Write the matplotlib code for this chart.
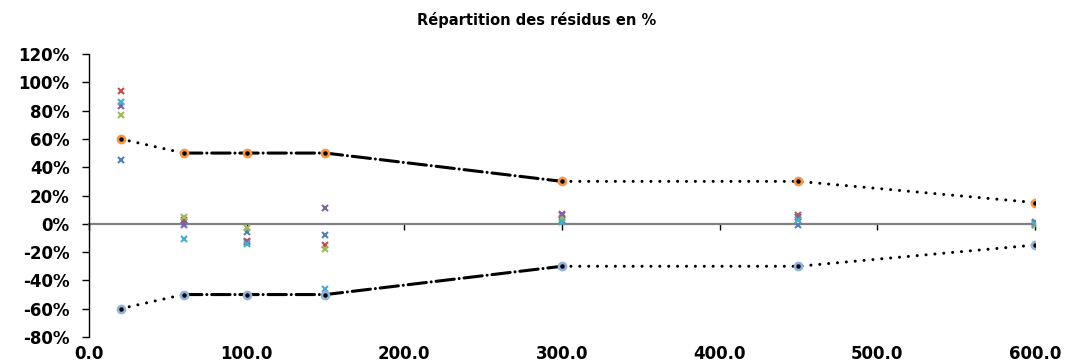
import matplotlib.pyplot as plt
import matplotlib.ticker as mticker
import numpy as np

plt.rcParams['font.family'] = ['DejaVu Sans']

# envelope (tolerance limits), in %
env_x = [20, 60, 100, 150, 300, 450, 600]
env_upper = [60, 50, 50, 50, 30, 30, 15]
env_lower = [-60, -50, -50, -50, -30, -30, -15]

# residuals per series, in %
res_x = [20, 60, 100, 150, 300, 450, 600]
res_blue = [45, 1, -6, -8, 2.5, -1, 1]
res_red = [94, 2.5, -12, -15, 6, 6.5, -1]
res_green = [77, 4.5, -3, -17.5, 4, 4.5, -0.5]
res_purple = [83, -1, -13, 11, 7, 5, 0.5]
res_cyan = [86, -11, -14.5, -46, 1, 3, 0]

fig = plt.figure(figsize=(10.67, 3.63), dpi=100)
ax = fig.add_axes([0.0834, 0.0716, 0.8866, 0.7796])

series = [
    (res_blue, '#4F81BD'),
    (res_red, '#C0504D'),
    (res_green, '#9BBB59'),
    (res_purple, '#8064A2'),
    (res_cyan, '#4BACC6'),
]
for vals, col in series:
    ax.plot(res_x, np.array(vals) / 100, linestyle='none', marker='x',
            color=col, ms=4.5, mew=1.5, zorder=3)

dotted = (0, (0.01, 2.9))
dashdot = (0, (6, 1.6, 0.01, 1.6))
ex = np.array(env_x)
for env in (env_upper, env_lower):
    ev = np.array(env) / 100
    ax.plot(ex[:2], ev[:2], color='black', lw=2.2, linestyle=dotted,
            dash_capstyle='round', zorder=4)
    ax.plot(ex[1:5], ev[1:5], color='black', lw=2.2, linestyle=dashdot,
            dash_capstyle='round', zorder=4)
    ax.plot(ex[4:], ev[4:], color='black', lw=2.2, linestyle=dotted,
            dash_capstyle='round', zorder=4)

ax.plot(ex, np.array(env_upper) / 100, linestyle='none', marker='o',
        ms=6, color='#F79646', zorder=5)
ax.plot(ex, np.array(env_lower) / 100, linestyle='none', marker='o',
        ms=6, color='#95B3D7', zorder=5)
ax.plot(ex, np.array(env_upper) / 100, linestyle='none', marker='o',
        ms=2.2, color='black', zorder=6)
ax.plot(ex, np.array(env_lower) / 100, linestyle='none', marker='o',
        ms=2.2, color='black', zorder=6)

ax.set_xlim(0, 600)
ax.set_ylim(-0.8, 1.2)
ax.set_yticks(np.arange(-0.8, 1.21, 0.2))
ax.yaxis.set_major_formatter(
    mticker.FuncFormatter(lambda v, p: '%d%%' % int(round(v * 100)) if round(v * 100) != 0 else '0%'))

for s in ('top', 'right'):
    ax.spines[s].set_visible(False)
ax.spines['left'].set_color('black')
ax.spines['left'].set_linewidth(1.0)
ax.spines['bottom'].set_position(('data', 0))
ax.spines['bottom'].set_color('#808080')
ax.spines['bottom'].set_linewidth(1.6)
ax.spines['bottom'].set_zorder(2)

ax.set_xticks(np.arange(0, 601, 100))
ax.tick_params(axis='x', direction='out', length=4, width=1, color='black',
               labelbottom=False)
ax.tick_params(axis='y', direction='out', length=5, width=1, pad=9,
               labelsize=12)
for lab in ax.get_yticklabels():
    lab.set_fontweight('bold')

sec = ax.secondary_xaxis('bottom')
sec.set_xticks(np.arange(0, 601, 100))
sec.xaxis.set_major_formatter(mticker.FormatStrFormatter('%.1f'))
sec.tick_params(length=0, pad=5.5, labelsize=12)
sec.spines['bottom'].set_visible(False)
for lab in sec.get_xticklabels():
    lab.set_fontweight('bold')

fig.text(0.503, 0.945, 'Répartition des résidus en %', ha='center',
         va='center', fontsize=10.5, fontweight='bold')

fig.savefig('out.png', dpi=100)
